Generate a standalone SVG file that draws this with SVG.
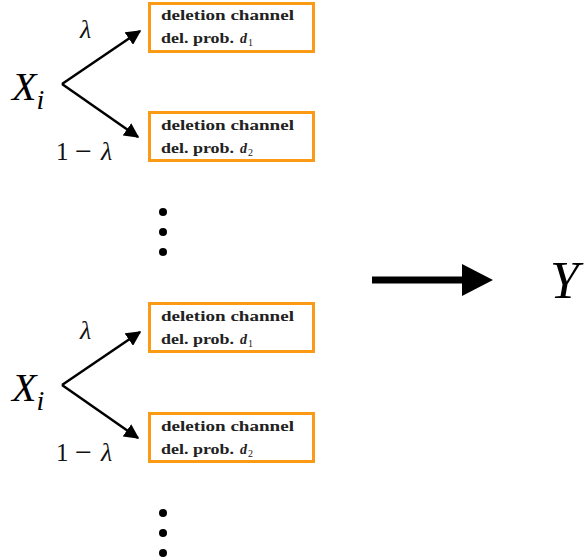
<svg xmlns="http://www.w3.org/2000/svg" width="584" height="558" viewBox="0 0 584 558">
<style>
.box{fill:#fff;stroke:#FB9A14;stroke-width:3}
.bt{font-family:"Liberation Serif",serif;font-weight:bold;font-size:14px;fill:#222}
.bd{font-family:"Liberation Serif",serif;font-weight:bold;font-style:italic;font-size:14px;fill:#222}
.sub{font-family:"Liberation Serif",serif;font-size:10px;fill:#222}
.X{font-family:"Liberation Serif",serif;font-style:italic;font-size:40px;fill:#000}
.Y{font-family:"Liberation Serif",serif;font-style:italic;font-size:52px;fill:#000}
.lbl{font-family:"Liberation Serif",serif;font-size:25px;fill:#111}
.mn{font-family:"Liberation Serif",serif;font-size:30px;fill:#111}
.lam{font-family:"Liberation Serif",serif;font-style:italic;font-size:26px;fill:#111}
.edge{stroke:#000;stroke-width:2.5;fill:none}
</style>
<defs>
<marker id="ah" viewBox="0 0 10 10" refX="9" refY="5" markerWidth="6" markerHeight="6" markerUnits="strokeWidth" orient="auto">
<path d="M0,0 L10,5 L0,10 z" fill="#000"/>
</marker>
</defs>
<g id="group1">
<g id="x1"><text x="12" y="100" class="X">X<tspan font-size="28" dy="9">i</tspan></text></g>
<g id="box1"><rect class="box" x="149.5" y="3.5" width="164" height="48"/>
<text class="bt" x="161" y="20" textLength="133" lengthAdjust="spacingAndGlyphs">deletion channel</text>
<text class="bt" x="161" y="43" textLength="73" lengthAdjust="spacingAndGlyphs">del. prob.</text>
<text class="bd" x="240" y="43">d</text><text class="sub" x="248" y="46">1</text></g>
<g id="box2"><rect class="box" x="149.5" y="112.5" width="164" height="48"/>
<text class="bt" x="161" y="130" textLength="133" lengthAdjust="spacingAndGlyphs">deletion channel</text>
<text class="bt" x="161" y="153" textLength="73" lengthAdjust="spacingAndGlyphs">del. prob.</text>
<text class="bd" x="240" y="153">d</text><text class="sub" x="248" y="156">2</text></g>
<text class="lam" x="80" y="38">λ</text>
<text class="lbl" x="56" y="160">1</text><text class="mn" x="75" y="161">−</text><text class="lam" x="101" y="160">λ</text>
</g>
<g id="group2" transform="translate(0,301)">
<g id="x2"><text x="12" y="100" class="X">X<tspan font-size="28" dy="9">i</tspan></text></g>
<g id="box3"><rect class="box" x="149.5" y="2.5" width="164" height="48"/>
<text class="bt" x="161" y="20" textLength="133" lengthAdjust="spacingAndGlyphs">deletion channel</text>
<text class="bt" x="161" y="43" textLength="73" lengthAdjust="spacingAndGlyphs">del. prob.</text>
<text class="bd" x="240" y="43">d</text><text class="sub" x="248" y="46">1</text></g>
<g id="box4"><rect class="box" x="149.5" y="112.5" width="164" height="48"/>
<text class="bt" x="161" y="130" textLength="133" lengthAdjust="spacingAndGlyphs">deletion channel</text>
<text class="bt" x="161" y="153" textLength="73" lengthAdjust="spacingAndGlyphs">del. prob.</text>
<text class="bd" x="240" y="153">d</text><text class="sub" x="248" y="156">2</text></g>
<text class="lam" x="80" y="38">λ</text>
<text class="lbl" x="56" y="160">1</text><text class="mn" x="75" y="161">−</text><text class="lam" x="101" y="160">λ</text>
</g>
<g id="connectors">
<path class="edge" d="M62,84 L140,31" marker-end="url(#ah)"/>
<path class="edge" d="M62,84 L138,137" marker-end="url(#ah)"/>
<path class="edge" d="M62,385 L140,332" marker-end="url(#ah)"/>
<path class="edge" d="M62,385 L138,438" marker-end="url(#ah)"/>
<path d="M372,280 L464,280" stroke="#000" stroke-width="7"/>
<path d="M462,264 L493,280 L462,296 z" fill="#000"/>
</g>
<g id="dots1" fill="#000"><circle cx="163" cy="212" r="4"/><circle cx="163" cy="232" r="4"/><circle cx="163" cy="252" r="4"/></g>
<g id="dots2" fill="#000"><circle cx="163" cy="513" r="4"/><circle cx="163" cy="533" r="4"/><circle cx="163" cy="553" r="4"/></g>
<g id="y"><text x="550" y="298" class="Y">Y</text></g>
</svg>
